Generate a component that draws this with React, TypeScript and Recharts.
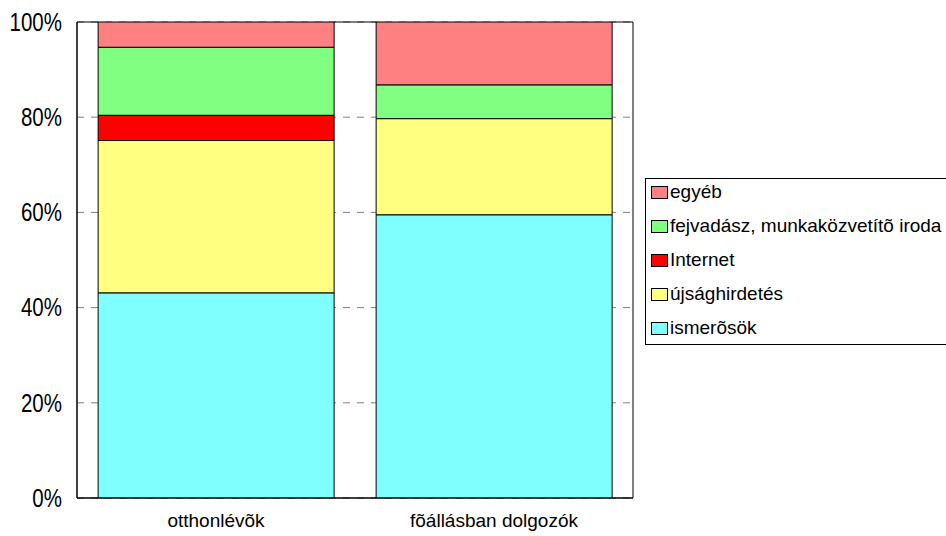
import React from "react";
import { ComposedChart, Bar, XAxis, YAxis, CartesianGrid, Legend } from "recharts";

const categories = ["otthonlévõk", "fõállásban dolgozók"];
const seriesNames = ["ismerõsök", "újsághirdetés", "Internet", "fejvadász, munkaközvetítõ iroda", "egyéb"];
const seriesColors = ["#80FFFF", "#FFFF80", "#FF0000", "#80FF80", "#FF8080"];
const ismerosok = [43.1, 59.5];
const ujsaghirdetes = [32.0, 20.2];
const internet = [5.3, 0];
const fejvadasz = [14.3, 7.1];
const egyeb = [5.3, 13.2];
const yTicks = [0, 20, 40, 60, 80, 100];

const seriesValues = [ismerosok, ujsaghirdetes, internet, fejvadasz, egyeb];
const data = categories.map((name, i) => {
  const row: Record<string, string | number> = { name };
  seriesNames.forEach((s, k) => {
    row["s" + k] = seriesValues[k][i];
  });
  return row;
});

const FONT = "'Liberation Sans', Arial, sans-serif";

const YTick = (props: any) => {
  const { x, y, payload } = props;
  return (
    <g transform={`translate(${x},${y})`}>
      <text
        transform="scale(0.82,1)"
        textAnchor="end"
        dominantBaseline="central"
        fill="#000"
        fontSize={25}
        fontFamily={FONT}
      >
        {`${payload.value}%`}
      </text>
    </g>
  );
};

const LegendBox = () => {
  const items = seriesNames.map((n, k) => ({ n, c: seriesColors[k] })).reverse();
  return (
    <div
      style={{
        border: "1px solid #000",
        background: "#fff",
        width: 320,
        height: 167,
        boxSizing: "border-box",
        fontFamily: FONT,
        fontSize: 19,
        overflow: "hidden",
      }}
    >
      <div style={{ position: "relative", top: -4 }}>
        {items.map((it) => (
          <div key={it.n} style={{ display: "flex", alignItems: "center", height: 34, whiteSpace: "nowrap" }}>
            <span
              style={{
                display: "inline-block",
                width: 15,
                height: 11,
                background: it.c,
                border: "1px solid #000",
                marginLeft: 5,
                marginRight: 2,
              }}
            />
            <span>{it.n}</span>
          </div>
        ))}
      </div>
    </div>
  );
};

const borderV = ({ offset }: any) => [offset.left, offset.left + offset.width];
const borderH = ({ offset }: any) => [offset.top, offset.top + offset.height];

export default function App() {
  return (
    <div style={{ position: "absolute", left: 0, top: 0, width: 946, height: 536, overflow: "hidden", background: "#fff" }}>
      <ComposedChart
        width={960}
        height={536}
        data={data}
        margin={{ top: 22, right: 327, bottom: 0, left: 0 }}
        barCategoryGap="7.6%"
      >
        <CartesianGrid horizontal vertical={false} stroke="#808080" strokeDasharray="7 7" />
        <XAxis
          dataKey="name"
          height={38}
          axisLine={{ stroke: "#000" }}
          tickLine={false}
          tickMargin={10}
          tick={{ fill: "#000", fontSize: 19, fontFamily: FONT }}
        />
        <YAxis
          width={77}
          domain={[0, 100]}
          ticks={yTicks}
          allowDataOverflow
          axisLine={{ stroke: "#000" }}
          tickLine={false}
          tickMargin={9}
          tick={<YTick />}
        />
        <Legend
          layout="vertical"
          align="center"
          verticalAlign="middle"
          content={() => <LegendBox />}
          wrapperStyle={{ left: 645, top: 178, width: 320 }}
        />
        {seriesNames.map((n, k) => (
          <Bar
            key={n}
            dataKey={"s" + k}
            name={n}
            stackId="a"
            fill={seriesColors[k]}
            stroke="#000"
            strokeWidth={1}
            isAnimationActive={false}
          />
        ))}
        <CartesianGrid
          stroke="#000"
          fill="none"
          horizontalCoordinatesGenerator={borderH}
          verticalCoordinatesGenerator={borderV}
        />
      </ComposedChart>
    </div>
  );
}
